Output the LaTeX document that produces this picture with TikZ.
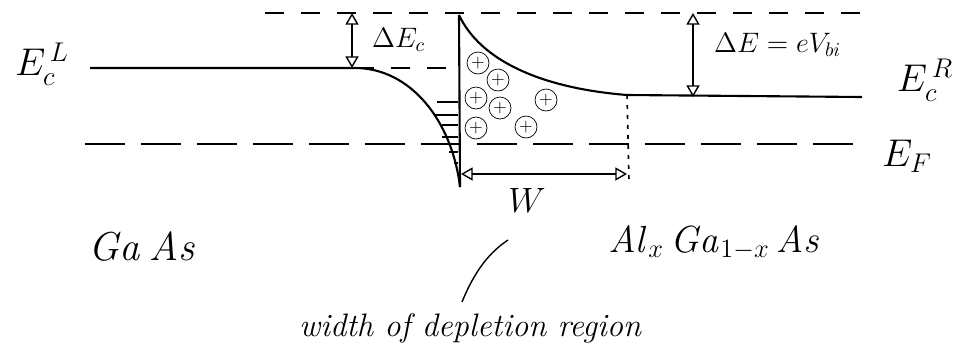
\RequirePackage{fix-cm}
\documentclass[tikz,border=0pt]{standalone}
\usetikzlibrary{arrows}
\tikzset{
  band/.style={line width=1.2pt},
  fermi/.style={line width=1pt, dash pattern=on 0.8cm off 0.32cm},
  vac/.style={line width=1pt, dash pattern=on 0.38cm off 0.34cm},
  edge/.style={line width=0.9pt, dash pattern=on 0.08cm off 0.12cm},
  gap/.style={line width=0.8pt, open triangle 60-open triangle 60},
  donor/.style={circle, draw, inner sep=0pt, minimum size=0.44cm},
  big/.style={font=\fontsize{22}{26}\selectfont},
  mid/.style={font=\fontsize{16}{19}\selectfont}
}
\begin{document}
\begin{tikzpicture}[x=0.02cm,y=-0.02cm]
\useasboundingbox (0,0) rectangle (979,349);

% points of the band edges
\coordinate (vacL) at (265,13);
\coordinate (vacR) at (870,13);
\coordinate (ecL) at (90,68);
\coordinate (bend) at (355,68);
\coordinate (tip) at (460,187);
\coordinate (spike) at (459,15);
\coordinate (flat) at (627,95);
\coordinate (ecR) at (862,97);

\draw[vac] (vacL) -- (vacR); % reference level
\draw[vac] (bend) -- (458,68);
\draw[fermi] (85,144) -- (866,144); % Fermi level
\draw[band] (ecL) -- (bend) .. controls (410,68) and (452,120) .. (tip);
\draw[band] (tip) -- (spike);
\draw[band] (spike) .. controls (480,60) and (540,88) .. (flat) -- (ecR);

% electrons in the well
\foreach \xa/\y in {437/102, 435/115, 442/125, 442/137, 449/152, 454/163}
\draw[line width=0.8pt] (\xa,\y) -- (458,\y);

% ionized donors
\foreach \x/\y [count=\i] in {478/63, 498/80, 476/98, 500/108, 546/100, 476/128, 526/127}
\node[donor] (d\i) at (\x,\y) {$+$};

% depletion width
\coordinate (wL) at (461,174);
\coordinate (wR) at (627,174);
\draw[edge] (flat) -- (629,180);
\draw[gap] (wL) -- (wR);
\node[font=\fontsize{20}{24}\selectfont] (w) at (527,200) {$W$};

% band offsets
\coordinate (dEcTop) at (352,13);
\coordinate (dEcBot) at (352,68);
\draw[gap] (dEcTop) -- (dEcBot);
\node[mid, right] (dEc) at (366,40) {$\Delta E_c$};
\coordinate (dETop) at (693,13);
\coordinate (dEBot) at (693,97);
\draw[gap] (dETop) -- (dEBot);
\node[mid, right] (dE) at (708,45) {$\Delta E = eV_{bi}$};

% labels
\node[big] (ecLlbl) at (42,64) {$E_c^{\,L}$};
\node[big] (ecRlbl) at (925,80) {$E_c^{\,R}$};
\node[big] (eF) at (907,156) {$E_F$};
\node[font=\fontsize{23}{27}\selectfont] (gaas) at (143,247) {$\mathit{Ga}\,\mathit{As}$};
\node[font=\fontsize{21.5}{25}\selectfont] (algaas) at (715,243) {$\mathit{Al}_x\,\mathit{Ga}_{1-x}\,\mathit{As}$};
\node[font=\fontsize{18.5}{22}\selectfont\itshape] (dep) at (470,328) {width of depletion region};
\coordinate (ptr) at (508,240);
\draw[line width=0.8pt] (462,302) .. controls (475,270) and (490,252) .. (ptr);

\end{tikzpicture}
\end{document}
